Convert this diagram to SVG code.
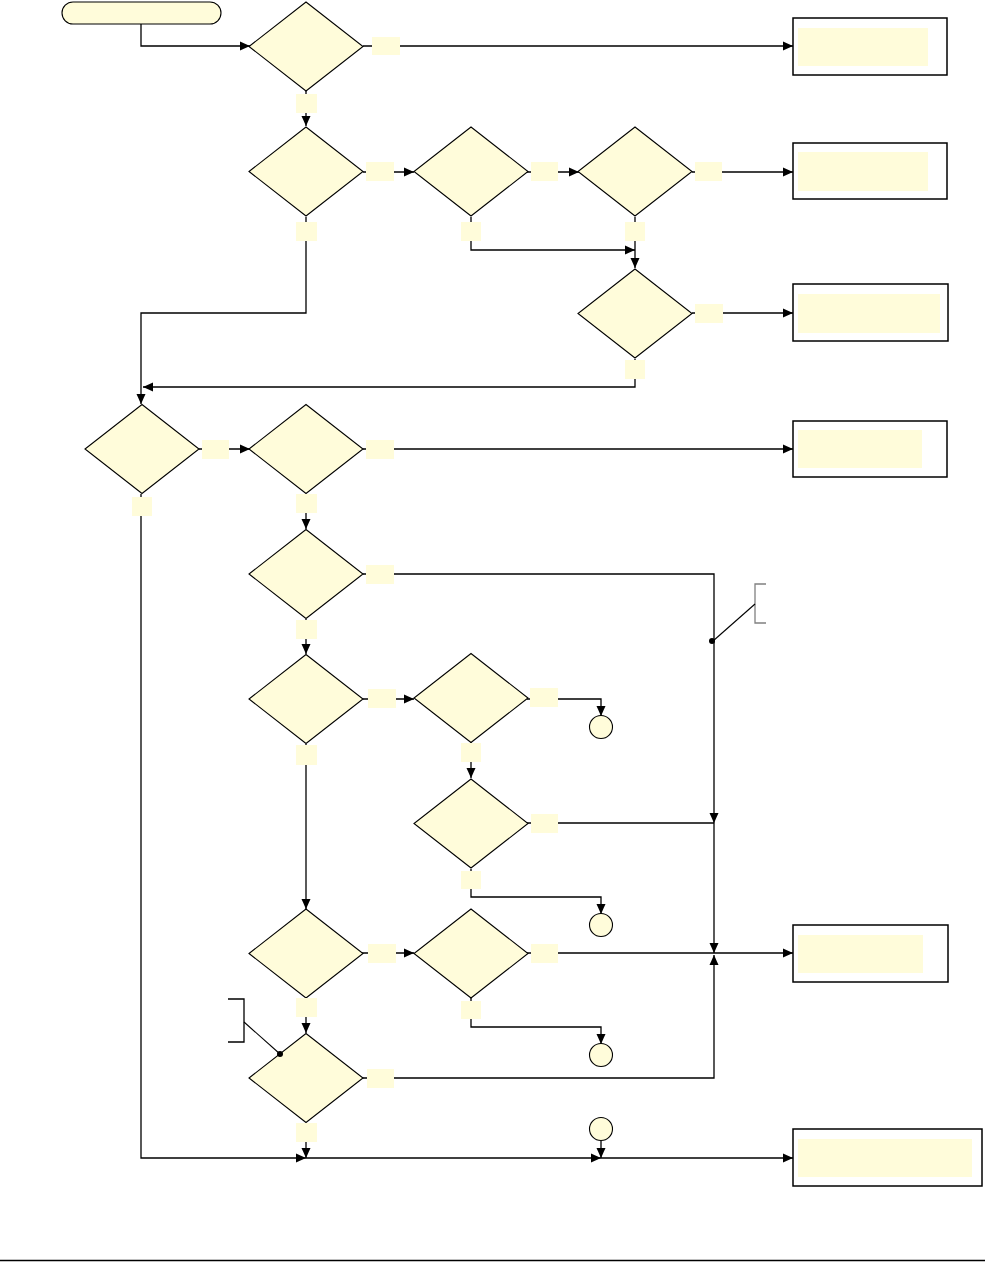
<svg xmlns="http://www.w3.org/2000/svg" width="985" height="1262" viewBox="0 0 985 1262">
<style>
.d{fill:#FFFCDA;stroke:#000;stroke-width:1.1}
.box{fill:#fff;stroke:#000;stroke-width:1.5}
.in{fill:#FFFCDA;stroke:none}
.lb{fill:#FFFCDA;stroke:none}
.c{fill:none;stroke:#000;stroke-width:1.3}
.ca{fill:none;stroke:#000;stroke-width:1.3;marker-end:url(#ah)}
.circ{fill:#FFFCDA;stroke:#000;stroke-width:1.1}
</style>
<defs>
<marker id="ah" markerUnits="userSpaceOnUse" markerWidth="11" markerHeight="11" refX="10" refY="5.5" orient="auto" viewBox="0 0 11 11">
<path d="M0,1 L10,5.5 L0,10 z" fill="#000"/>
</marker>
<path id="dia" d="M0,-44.5 L57,0 L0,44.5 L-57,0 z"/>
</defs>
<rect width="985" height="1262" fill="#fff"/>
<g id="connectors">
<path class="ca" d="M141,24 V46 H250"/>
<path class="ca" d="M363,46 H793"/>
<path class="ca" d="M306,91 V126"/>
<path class="ca" d="M363,172 H414"/>
<path class="ca" d="M527,172 H579"/>
<path class="ca" d="M692,172 H793"/>
<path class="ca" d="M471,217 V250 H635"/>
<path class="ca" d="M635,217 V268"/>
<path class="ca" d="M692,313 H793"/>
<path class="ca" d="M635,359 V387 H143"/>
<path class="ca" d="M306,217 V313 H141 V404"/>
<path class="ca" d="M199,449 H250"/>
<path class="ca" d="M363,449 H793"/>
<path class="ca" d="M306,494 V529"/>
<path class="ca" d="M141,494 V1158 H306"/>
<path class="ca" d="M363,574 H714 V823"/>
<path class="ca" d="M714,823 V953"/>
<path class="ca" d="M306,619 V654"/>
<path class="ca" d="M363,699 H414"/>
<path class="ca" d="M527,699 H601 V716"/>
<path class="ca" d="M471,742 V778"/>
<path class="c" d="M527,823 H714"/>
<path class="ca" d="M471,869 V897 H601 V914"/>
<path class="ca" d="M306,744 V909"/>
<path class="ca" d="M362,953 H414"/>
<path class="c" d="M527,953 H714"/>
<path class="ca" d="M714,953 H793"/>
<path class="ca" d="M471,998 V1027 H601 V1044"/>
<path class="ca" d="M306,998 V1033"/>
<path class="ca" d="M362,1078 H714 V955"/>
<path class="ca" d="M306,1123 V1158"/>
<path class="ca" d="M601,1141 V1158"/>
<path class="ca" d="M306,1158 H601"/>
<path class="ca" d="M601,1158 H793"/>
</g>
<g id="start"><rect x="62" y="2" width="159" height="22" rx="11" class="d"/></g>
<g id="d1"><use href="#dia" class="d" x="306" y="46.5"/></g>
<g id="d2"><use href="#dia" class="d" x="306" y="171.5"/></g>
<g id="d3"><use href="#dia" class="d" x="471" y="171.5"/></g>
<g id="d4"><use href="#dia" class="d" x="635" y="171.5"/></g>
<g id="d5"><use href="#dia" class="d" x="635" y="313.5"/></g>
<g id="d6"><use href="#dia" class="d" x="142" y="449"/></g>
<g id="d7"><use href="#dia" class="d" x="306" y="449"/></g>
<g id="d8"><use href="#dia" class="d" x="306" y="574"/></g>
<g id="d9"><use href="#dia" class="d" x="306" y="699"/></g>
<g id="d10"><use href="#dia" class="d" x="471" y="698"/></g>
<g id="d11"><use href="#dia" class="d" x="471" y="823.5"/></g>
<g id="d12"><use href="#dia" class="d" x="306" y="953.5"/></g>
<g id="d13"><use href="#dia" class="d" x="471" y="953.5"/></g>
<g id="d14"><use href="#dia" class="d" x="306" y="1078"/></g>
<g id="c1"><circle class="circ" cx="601" cy="727" r="11.5"/></g>
<g id="c2"><circle class="circ" cx="601" cy="925" r="11.5"/></g>
<g id="c3"><circle class="circ" cx="601" cy="1055" r="11.5"/></g>
<g id="c4"><circle class="circ" cx="601" cy="1129" r="11.5"/></g>
<g id="b1"><rect class="box" x="793" y="18" width="154" height="57"/><rect class="in" x="798" y="28" width="130" height="38"/></g>
<g id="b2"><rect class="box" x="793" y="143" width="154" height="56"/><rect class="in" x="798" y="152" width="130" height="39"/></g>
<g id="b3"><rect class="box" x="793" y="284" width="155" height="57"/><rect class="in" x="798" y="294" width="142" height="39"/></g>
<g id="b4"><rect class="box" x="793" y="421" width="154" height="56"/><rect class="in" x="798" y="430" width="124" height="38"/></g>
<g id="b5"><rect class="box" x="793" y="925" width="155" height="57"/><rect class="in" x="798" y="935" width="125" height="38"/></g>
<g id="b6"><rect class="box" x="793" y="1129" width="189" height="57"/><rect class="in" x="798" y="1139" width="174" height="38"/></g>
<g id="labels">
<rect class="lb" x="372" y="37" width="28" height="18"/>
<rect class="lb" x="296" y="94" width="21" height="19"/>
<rect class="lb" x="366" y="162" width="28" height="19"/>
<rect class="lb" x="531" y="162" width="27" height="19"/>
<rect class="lb" x="695" y="162" width="27" height="19"/>
<rect class="lb" x="296" y="222" width="21" height="19"/>
<rect class="lb" x="461" y="222" width="20" height="19"/>
<rect class="lb" x="625" y="222" width="20" height="19"/>
<rect class="lb" x="695" y="304" width="28" height="19"/>
<rect class="lb" x="625" y="360" width="20" height="19"/>
<rect class="lb" x="202" y="440" width="27" height="19"/>
<rect class="lb" x="366" y="440" width="28" height="19"/>
<rect class="lb" x="132" y="497" width="20" height="19"/>
<rect class="lb" x="296" y="494" width="21" height="19"/>
<rect class="lb" x="366" y="565" width="28" height="19"/>
<rect class="lb" x="296" y="620" width="21" height="19"/>
<rect class="lb" x="368" y="689" width="28" height="19"/>
<rect class="lb" x="530" y="688" width="28" height="19"/>
<rect class="lb" x="296" y="745" width="21" height="20"/>
<rect class="lb" x="461" y="743" width="20" height="19"/>
<rect class="lb" x="531" y="814" width="27" height="19"/>
<rect class="lb" x="461" y="871" width="20" height="18"/>
<rect class="lb" x="368" y="944" width="28" height="19"/>
<rect class="lb" x="531" y="944" width="27" height="19"/>
<rect class="lb" x="296" y="998" width="21" height="19"/>
<rect class="lb" x="461" y="1001" width="20" height="18"/>
<rect class="lb" x="367" y="1069" width="27" height="19"/>
<rect class="lb" x="296" y="1123" width="21" height="19"/>
</g>
<g id="annotations">
<path d="M766,584 H755 V623 H766" fill="none" stroke="#808080" stroke-width="1.3"/>
<line x1="713" y1="641" x2="755" y2="604" stroke="#000" stroke-width="1.1"/>
<circle cx="712" cy="641" r="3" fill="#000"/>
<path d="M228,999 H244 V1042 H228" fill="none" stroke="#000" stroke-width="1.3"/>
<line x1="244" y1="1022" x2="280" y2="1054" stroke="#000" stroke-width="1.1"/>
<circle cx="280" cy="1054" r="3" fill="#000"/>
</g>
<line x1="0" y1="1260.5" x2="985" y2="1260.5" stroke="#000" stroke-width="1.5"/>
</svg>
